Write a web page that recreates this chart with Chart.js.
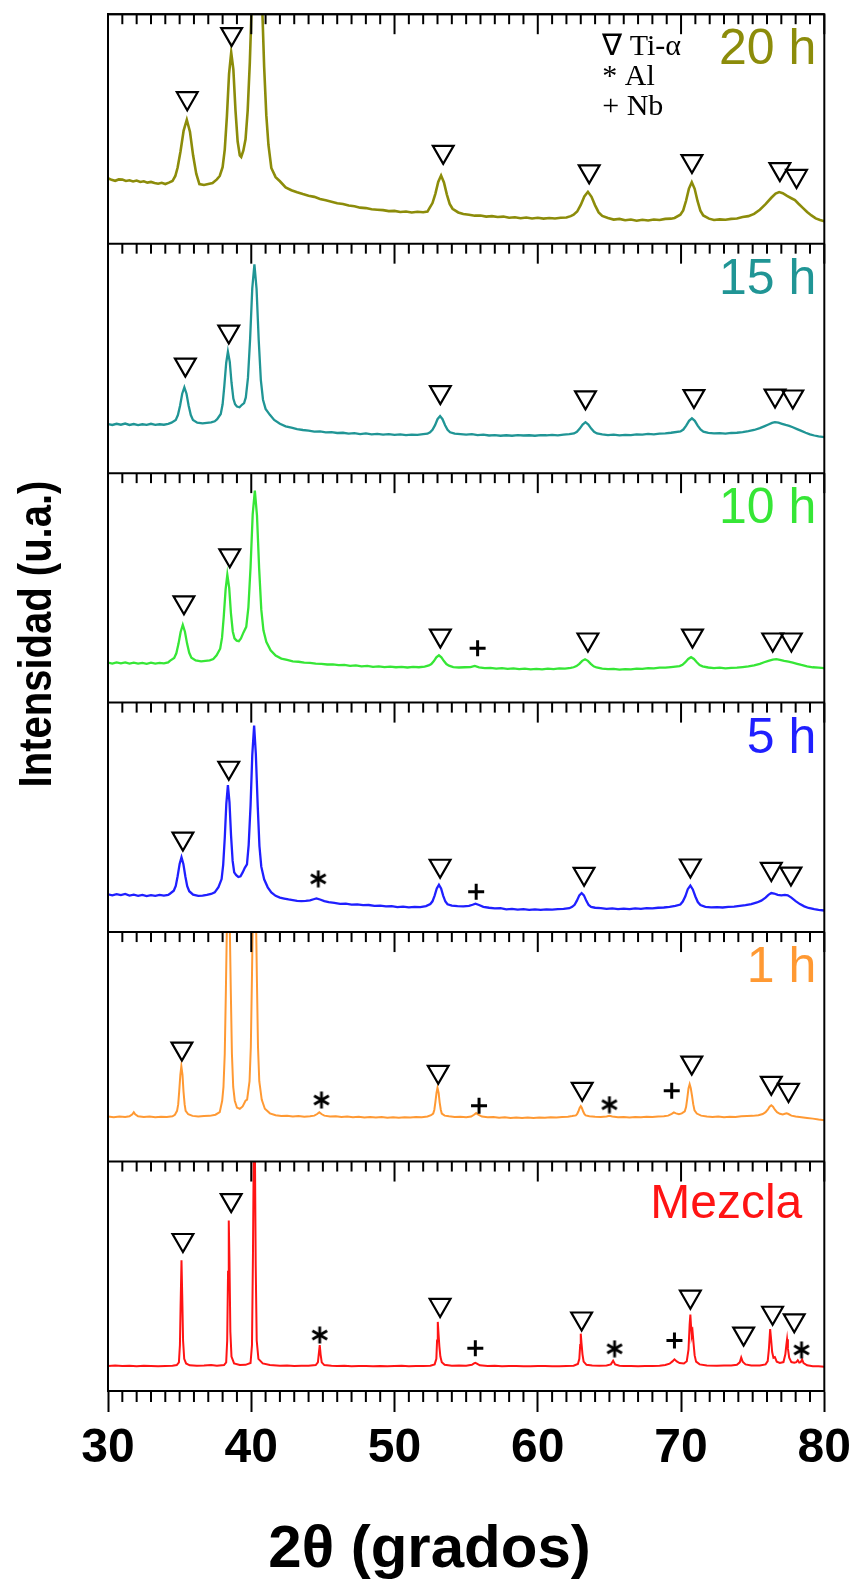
<!DOCTYPE html>
<html><head><meta charset="utf-8">
<script src="https://cdn.jsdelivr.net/npm/chart.js@4.4.1/dist/chart.umd.min.js"></script>
<style>html,body{margin:0;padding:0;background:#fff;}canvas{display:block;}</style>
</head><body>
<canvas id="c" width="859" height="1579" style="width:859px;height:1579px"></canvas>
<script>
// ---------- DATA (2θ in degrees, intensity in % of each panel's height) ----------
const panelLabels = ['Mezcla', '1 h', '5 h', '10 h', '15 h', '20 h'];
const panelColors = ['#ff1414', '#ff9933', '#1f1fff', '#36e636', '#209595', '#8c8c0a'];
const xTickValues = [30, 40, 50, 60, 70, 80];
const legendItems = ['\u2207 Ti-\u03b1', '* Al', '+ Nb'];
const xTitle = '2\u03b8 (grados)';
const yTitle = 'Intensidad (u.a.)';

const xrdMezcla = [[30,10.9],[30.5,11.1],[31,10.9],[31.5,11.0],[32,10.8],[32.5,11.0],[33,10.9],[33.5,10.8],[34,10.9],[34.5,11.0],[34.8,11.3],[34.95,12.5],[35.02,20.0],[35.07,38.0],[35.13,57.0],[35.18,42.0],[35.24,22.0],[35.32,14.0],[35.45,12.0],[35.7,11.2],[36.2,11.0],[36.7,11.1],[37.2,11.3],[37.6,11.0],[38.1,11.3],[38.25,12.5],[38.32,22.0],[38.38,52.0],[38.43,74.3],[38.48,56.0],[38.54,26.0],[38.62,15.0],[38.8,12.0],[39.2,11.3],[39.6,11.4],[39.95,12.2],[40.05,20.0],[40.12,60.0],[40.18,110],[40.21,135],[40.25,110],[40.31,55],[40.38,22],[40.5,14.0],[40.8,12.0],[41.3,11.3],[42,11.0],[42.5,11.1],[43,10.9],[43.5,11.0],[44,11.0],[44.5,11.3],[44.65,12.5],[44.72,16.5],[44.78,20.0],[44.84,16.0],[44.92,12.5],[45.1,11.3],[45.6,11.0],[46,10.9],[46.5,11.0],[47,10.8],[47.5,10.9],[48,10.9],[48.5,10.8],[49,10.9],[49.5,10.8],[50,10.9],[50.5,11.0],[51,10.8],[51.5,10.9],[52,10.9],[52.5,11.0],[52.8,11.6],[52.92,14.0],[52.97,22.0],[53.02,30.1],[53.07,25.0],[53.13,19.5],[53.2,15.0],[53.3,12.5],[53.5,11.4],[54,11.0],[54.5,11.1],[55,11.0],[55.4,11.4],[55.55,12.0],[55.64,12.3],[55.75,11.9],[55.95,11.2],[56.5,10.9],[57,11.0],[57.5,10.8],[58,10.9],[58.5,10.9],[59,10.8],[59.5,10.8],[60,10.9],[60.5,10.9],[61,10.8],[61.5,10.8],[62,10.9],[62.5,11.0],[62.8,11.8],[62.9,14.0],[62.96,20.0],[63.0,25.0],[63.05,21.0],[63.12,16.0],[63.2,12.8],[63.4,11.4],[63.8,11.1],[64.3,11.0],[64.8,11.1],[65.1,11.6],[65.26,13.2],[65.4,11.6],[65.7,11.0],[66,10.9],[66.5,10.9],[67,10.8],[67.5,10.9],[68,10.9],[68.5,11.0],[68.9,11.3],[69.2,11.9],[69.4,12.9],[69.54,13.8],[69.7,12.9],[69.9,12.2],[70.2,12.0],[70.4,13.0],[70.52,18.0],[70.6,29.0],[70.65,33.3],[70.7,28.0],[70.75,24.0],[70.81,25.5],[70.87,21.0],[70.95,15.5],[71.05,12.8],[71.3,11.6],[71.8,11.1],[72.5,11.0],[73,11.1],[73.5,11.1],[73.9,11.4],[74.1,12.5],[74.2,14.6],[74.3,12.8],[74.5,11.6],[74.9,11.1],[75.5,11.1],[75.9,11.6],[76.05,13.0],[76.13,18.0],[76.22,27.0],[76.28,23.0],[76.36,17.0],[76.45,14.5],[76.55,14.8],[76.68,12.8],[76.9,12.2],[77.15,12.6],[77.28,16.0],[77.35,20.0],[77.4,22.5],[77.46,18.5],[77.55,14.5],[77.7,12.6],[77.9,12.3],[78.05,12.6],[78.15,13.4],[78.25,12.4],[78.35,12.6],[78.45,13.8],[78.55,12.2],[78.8,11.2],[79.2,10.8],[79.6,10.8],[80,10.6]];

const xrd1h = [[30,19.6],[30.4,19.3],[30.8,19.6],[31.2,19.4],[31.5,19.7],[31.7,20.6],[31.8,21.5],[31.9,20.6],[32.1,19.7],[32.5,19.4],[32.9,19.6],[33.3,19.3],[33.7,19.5],[34.1,19.4],[34.5,19.7],[34.67,20.4],[34.82,22.1],[34.9,24.9],[34.97,30.6],[35.05,37.8],[35.12,41.6],[35.2,37.8],[35.27,30.6],[35.35,24.9],[35.42,22.1],[35.6,20.6],[35.9,19.9],[36.3,19.6],[36.7,19.8],[37.1,19.9],[37.5,20.4],[37.8,21.5],[37.97,26.5],[38.06,32.5],[38.15,47],[38.23,75],[38.32,111],[38.4,130],[38.48,111],[38.57,75],[38.65,47],[38.74,32.5],[38.85,26.5],[39.0,23.5],[39.2,23.0],[39.4,24.0],[39.6,26.5],[39.71,27],[39.88,35],[39.97,50],[40.05,81],[40.14,120],[40.22,141],[40.3,120],[40.39,81],[40.47,50],[40.56,35],[40.73,27],[40.95,23],[41.3,21],[41.7,20.2],[42.1,19.8],[42.5,19.9],[42.9,19.6],[43.3,19.8],[43.7,19.5],[44.1,19.7],[44.4,20.0],[44.6,20.7],[44.75,21.5],[44.9,20.7],[45.1,20.0],[45.5,19.6],[45.9,19.7],[46.3,19.4],[46.7,19.6],[47.1,19.3],[47.5,19.5],[47.9,19.2],[48.3,19.4],[48.7,19.2],[49.1,19.4],[49.5,19.1],[49.9,19.3],[50.3,19.1],[50.7,19.3],[51.1,19.2],[51.5,19.4],[51.9,19.3],[52.3,19.6],[52.55,20.2],[52.7,20.9],[52.78,22.6],[52.85,25.8],[52.93,29.9],[53.0,32.1],[53.08,29.9],[53.15,25.8],[53.23,22.6],[53.3,20.9],[53.5,20.0],[53.8,19.7],[54.2,19.4],[54.6,19.5],[55.0,19.3],[55.35,19.6],[55.55,20.4],[55.7,21.1],[55.85,20.4],[56.1,19.6],[56.5,19.3],[56.9,19.4],[57.3,19.1],[57.7,19.3],[58.1,19.0],[58.5,19.2],[58.9,19.0],[59.3,19.2],[59.7,19.0],[60.1,19.2],[60.5,19.1],[60.9,19.3],[61.3,19.2],[61.7,19.4],[62.1,19.5],[62.4,19.8],[62.66,20.1],[62.75,20.7],[62.83,21.8],[62.92,23.3],[63.0,24.1],[63.08,23.3],[63.17,21.8],[63.25,20.7],[63.34,20.1],[63.6,19.7],[64.0,19.5],[64.4,19.4],[64.8,19.6],[65.0,19.9],[65.2,19.6],[65.6,19.3],[66.0,19.4],[66.4,19.2],[66.8,19.4],[67.2,19.3],[67.6,19.5],[68.0,19.4],[68.4,19.6],[68.8,19.7],[69.1,20.0],[69.35,20.8],[69.5,21.4],[69.65,21.0],[69.85,20.6],[70.05,21.0],[70.26,21.9],[70.35,23.7],[70.43,27.3],[70.52,31.9],[70.6,33.7],[70.68,31.9],[70.77,28.5],[70.85,25.0],[70.94,22.3],[71.1,20.9],[71.4,20.0],[71.8,19.6],[72.2,19.4],[72.6,19.6],[73.0,19.3],[73.4,19.5],[73.8,19.4],[74.2,19.7],[74.6,19.8],[75.0,19.9],[75.4,20.2],[75.7,20.7],[75.9,21.5],[76.05,22.6],[76.18,23.9],[76.3,24.5],[76.42,23.9],[76.55,22.6],[76.7,21.5],[76.9,20.8],[77.1,20.5],[77.25,20.8],[77.37,21.0],[77.5,20.7],[77.7,20.0],[78.0,19.6],[78.4,19.3],[78.8,19.0],[79.2,18.7],[79.6,18.3],[80,18.0]];

const xrd5h = [[30,16.4],[30.3,16.0],[30.6,16.5],[30.9,16.1],[31.2,16.6],[31.5,15.9],[31.8,16.3],[32.1,15.8],[32.4,16.2],[32.7,15.7],[33.0,16.1],[33.3,15.8],[33.6,16.2],[33.9,15.9],[34.2,16.2],[34.32,16.7],[34.59,18.0],[34.73,20.1],[34.86,24.3],[35.0,29.7],[35.13,32.6],[35.26,29.7],[35.4,24.2],[35.53,20.0],[35.67,17.8],[35.94,16.3],[36.3,15.8],[36.6,15.9],[36.9,16.2],[37.2,16.6],[37.45,17.3],[37.71,19.6],[37.93,23.1],[38.04,29.3],[38.15,41.0],[38.26,56.0],[38.37,64.0],[38.48,56.5],[38.59,42.0],[38.7,31.0],[38.81,26.0],[38.95,24.8],[39.1,24.0],[39.25,24.3],[39.4,26.0],[39.55,28.0],[39.7,29.5],[39.82,38.0],[39.95,55.0],[40.07,77.0],[40.2,90.0],[40.32,77.5],[40.45,55.0],[40.57,37.5],[40.7,28.5],[40.9,23.0],[41.15,19.5],[41.4,17.3],[41.7,15.8],[42.0,15.0],[42.3,14.6],[42.6,14.2],[42.9,13.9],[43.2,13.6],[43.5,13.5],[43.8,13.6],[44.1,13.8],[44.35,14.3],[44.55,14.7],[44.8,14.2],[45.1,13.5],[45.4,13.0],[45.8,12.7],[46.2,12.3],[46.6,12.4],[47.0,12.0],[47.4,12.1],[47.8,11.7],[48.2,11.8],[48.6,11.4],[49.0,11.5],[49.4,11.2],[49.8,11.3],[50.2,10.9],[50.6,11.1],[51.0,10.8],[51.4,11.0],[51.8,10.9],[52.2,11.3],[52.5,12.2],[52.65,13.4],[52.8,15.9],[52.95,19.0],[53.1,20.6],[53.25,19.0],[53.4,15.8],[53.55,13.3],[53.7,12.1],[54.0,11.5],[54.4,11.3],[54.8,11.2],[55.2,11.4],[55.45,11.9],[55.65,12.4],[55.9,11.8],[56.2,11.0],[56.6,10.6],[57.0,10.3],[57.4,10.4],[57.8,9.9],[58.2,10.1],[58.6,9.8],[59.0,10.0],[59.4,9.7],[59.8,9.9],[60.2,9.7],[60.6,9.9],[61.0,9.8],[61.4,10.0],[61.8,10.1],[62.2,10.4],[62.4,11.0],[62.57,11.9],[62.73,13.7],[62.9,16.0],[63.06,17.0],[63.22,16.0],[63.39,13.6],[63.55,11.8],[63.72,11.0],[64.0,10.6],[64.4,10.4],[64.8,10.1],[65.2,10.3],[65.6,10.0],[66.0,10.2],[66.4,10.0],[66.8,10.3],[67.2,10.1],[67.6,10.4],[68.0,10.3],[68.4,10.6],[68.8,10.7],[69.2,11.0],[69.6,11.4],[69.95,12.0],[70.12,13.3],[70.3,15.6],[70.47,18.7],[70.65,20.3],[70.82,18.6],[71.0,15.5],[71.17,13.1],[71.35,11.8],[71.7,11.0],[72.1,10.8],[72.5,10.9],[72.9,10.7],[73.3,11.0],[73.7,11.1],[74.1,11.4],[74.5,11.7],[74.9,12.2],[75.3,12.9],[75.6,13.7],[75.9,15.0],[76.1,16.2],[76.3,17.0],[76.5,16.8],[76.75,16.2],[77.0,16.0],[77.25,16.2],[77.45,16.0],[77.7,15.0],[78.0,13.5],[78.3,12.2],[78.6,11.2],[78.9,10.5],[79.3,10.0],[79.6,9.7],[80,9.4]];

const xrd10h = [[30,17.4],[30.3,17.0],[30.6,17.5],[30.9,17.1],[31.2,17.5],[31.5,17.0],[31.8,17.4],[32.1,17.0],[32.4,17.3],[32.7,16.9],[33.0,17.4],[33.3,17.0],[33.6,17.3],[33.9,17.1],[34.2,17.5],[34.32,18.2],[34.62,19.4],[34.77,21.5],[34.92,25.6],[35.07,30.8],[35.22,33.9],[35.37,30.9],[35.52,25.7],[35.67,21.7],[35.82,19.6],[36.12,18.4],[36.5,18.0],[36.8,18.2],[37.1,18.4],[37.35,19.0],[37.58,20.6],[37.83,23.5],[37.96,28.3],[38.08,37.5],[38.21,49.3],[38.33,55.7],[38.46,50.0],[38.58,39.0],[38.71,31.0],[38.83,28.0],[38.98,27.0],[39.13,26.8],[39.28,28.0],[39.45,30.5],[39.65,33.0],[39.8,41.5],[39.95,59.0],[40.1,82.0],[40.25,92.4],[40.4,81.5],[40.55,58.5],[40.7,40.5],[40.85,31.5],[41.05,26.5],[41.35,22.8],[41.7,20.5],[42.1,19.2],[42.5,18.6],[42.9,18.0],[43.3,17.8],[43.7,17.4],[44.1,17.3],[44.5,17.0],[44.9,16.9],[45.3,16.6],[45.7,16.7],[46.1,16.3],[46.5,16.4],[46.9,16.0],[47.3,16.2],[47.7,15.8],[48.1,16.0],[48.5,15.6],[48.9,15.8],[49.3,15.5],[49.7,15.7],[50.1,15.4],[50.5,15.6],[50.9,15.3],[51.3,15.6],[51.7,15.4],[52.1,15.7],[52.4,16.2],[52.57,16.8],[52.75,18.1],[52.92,19.7],[53.1,20.6],[53.27,19.7],[53.45,18.1],[53.62,16.8],[53.8,16.1],[54.1,15.5],[54.5,15.3],[54.9,15.4],[55.3,15.5],[55.6,16.0],[55.9,15.4],[56.3,15.0],[56.7,15.1],[57.1,14.8],[57.5,15.0],[57.9,14.7],[58.3,14.9],[58.7,14.6],[59.1,14.8],[59.5,14.5],[59.9,14.7],[60.3,14.5],[60.7,14.8],[61.1,14.6],[61.5,14.9],[61.9,14.8],[62.3,15.1],[62.5,15.4],[62.7,15.9],[62.9,16.9],[63.1,18.2],[63.3,18.9],[63.5,18.2],[63.7,16.9],[63.9,15.8],[64.1,15.3],[64.5,14.8],[64.9,14.6],[65.3,14.7],[65.7,14.4],[66.1,14.6],[66.5,14.5],[66.9,14.8],[67.3,14.7],[67.7,15.0],[68.1,14.9],[68.5,15.2],[68.9,15.2],[69.3,15.5],[69.9,15.9],[70.1,16.5],[70.3,17.6],[70.5,19.0],[70.7,19.8],[70.9,19.0],[71.1,17.6],[71.3,16.4],[71.5,15.8],[71.9,15.3],[72.3,15.0],[72.7,15.2],[73.1,14.9],[73.5,15.1],[73.9,15.2],[74.3,15.5],[74.7,15.8],[75.1,16.2],[75.5,16.9],[75.8,17.6],[76.1,18.2],[76.4,18.7],[76.65,18.9],[76.9,18.6],[77.2,18.2],[77.5,17.9],[77.8,17.4],[78.1,16.9],[78.4,16.4],[78.8,15.8],[79.2,15.4],[79.6,15.2],[80,15.0]];

const xrd15h = [[30,21.4],[30.3,21.0],[30.6,21.5],[30.9,21.1],[31.2,21.6],[31.5,21.0],[31.8,21.4],[32.1,20.9],[32.4,21.3],[32.7,21.0],[33.0,21.5],[33.3,21.0],[33.6,21.3],[33.9,21.1],[34.2,21.5],[34.43,22.0],[34.73,23.2],[34.88,25.3],[35.03,29.4],[35.18,34.6],[35.33,37.4],[35.48,34.6],[35.63,29.4],[35.78,25.3],[35.93,23.2],[36.23,22.0],[36.6,21.7],[36.9,21.9],[37.2,22.1],[37.45,22.6],[37.62,23.5],[37.87,25.8],[38.0,30.0],[38.12,38.0],[38.25,48.0],[38.37,52.9],[38.5,48.5],[38.62,39.5],[38.75,32.5],[38.87,30.0],[39.0,29.0],[39.18,28.7],[39.35,29.8],[39.5,30.5],[39.62,33.0],[39.77,41.5],[39.92,58.5],[40.07,80.5],[40.22,91.0],[40.37,80.3],[40.52,58.0],[40.67,40.5],[40.82,32.0],[41.0,28.0],[41.3,25.4],[41.6,23.2],[42.0,21.5],[42.4,20.4],[42.8,19.8],[43.2,19.2],[43.6,18.8],[44.0,18.5],[44.4,18.1],[44.8,18.2],[45.2,17.8],[45.6,17.9],[46.0,17.5],[46.4,17.6],[46.8,17.2],[47.2,17.4],[47.6,17.0],[48.0,17.3],[48.4,16.9],[48.8,17.1],[49.2,16.8],[49.6,17.0],[50.0,16.7],[50.4,16.9],[50.8,16.6],[51.2,16.8],[51.6,16.7],[52.0,17.0],[52.3,17.2],[52.48,17.8],[52.65,18.9],[52.83,20.9],[53.0,23.5],[53.18,24.9],[53.35,23.5],[53.53,20.9],[53.7,18.9],[53.88,17.8],[54.2,17.2],[54.6,17.0],[55.0,16.8],[55.4,17.0],[55.8,16.6],[56.2,16.8],[56.6,16.4],[57.0,16.6],[57.4,16.3],[57.8,16.5],[58.2,16.3],[58.6,16.6],[59.0,16.4],[59.4,16.5],[59.8,16.3],[60.2,16.6],[60.6,16.5],[61.0,16.7],[61.4,16.5],[61.8,16.8],[62.2,17.0],[62.53,17.3],[62.73,18.0],[62.93,19.4],[63.13,21.2],[63.33,22.2],[63.53,21.2],[63.73,19.4],[63.93,18.0],[64.13,17.3],[64.5,16.9],[64.9,16.6],[65.3,16.8],[65.7,16.5],[66.1,16.7],[66.5,16.6],[66.9,16.9],[67.3,16.8],[67.7,17.1],[68.1,16.9],[68.5,17.2],[68.9,17.3],[69.3,17.6],[69.96,18.2],[70.16,19.0],[70.36,20.7],[70.56,22.8],[70.76,23.9],[70.96,22.8],[71.16,20.7],[71.36,19.0],[71.56,18.1],[71.9,17.5],[72.3,17.3],[72.7,17.4],[73.1,17.2],[73.5,17.5],[73.9,17.6],[74.3,17.9],[74.7,18.3],[75.1,18.8],[75.5,19.6],[75.8,20.4],[76.1,21.2],[76.35,21.9],[76.55,22.2],[76.8,22.0],[77.05,21.5],[77.3,21.0],[77.55,20.6],[77.8,20.0],[78.1,19.2],[78.4,18.4],[78.7,17.6],[79.0,16.9],[79.3,16.4],[79.6,16.0],[80,15.7]];

const xrd20h = [[30,28.5],[30.25,27.8],[30.5,27.4],[30.75,28.0],[31,27.9],[31.25,27.3],[31.5,27.6],[31.75,27.1],[32,27.5],[32.25,26.9],[32.5,27.2],[32.75,26.6],[33,26.9],[33.25,26.4],[33.5,26.1],[33.75,26.5],[34,26.0],[34.25,26.6],[34.5,27.3],[34.7,29.5],[34.86,33.2],[35.06,40.2],[35.28,49.3],[35.5,54.0],[35.72,48.8],[35.94,38.5],[36.16,30.5],[36.38,26.0],[36.7,25.6],[37.0,26.0],[37.3,26.4],[37.6,28.0],[37.8,29.5],[38.0,33.3],[38.15,41.0],[38.3,55.5],[38.45,74.0],[38.6,83.3],[38.75,76.0],[38.9,58.0],[39.05,44.5],[39.2,38.5],[39.3,37.8],[39.45,40.6],[39.6,45.5],[39.75,58.0],[39.9,79.0],[40.05,108],[40.2,137],[40.4,157],[40.6,136],[40.75,106],[40.9,77],[41.05,56],[41.2,43],[41.4,33],[41.7,29],[42.0,27.2],[42.4,24.5],[42.8,23.3],[43.2,22.4],[43.6,21.6],[44.0,20.9],[44.4,20.4],[44.8,19.5],[45.2,18.9],[45.6,18.3],[46.0,17.6],[46.4,17.3],[46.8,16.6],[47.2,16.3],[47.6,15.7],[48.0,15.5],[48.4,15.0],[48.8,14.8],[49.2,14.6],[49.6,14.2],[50.0,14.3],[50.4,13.8],[50.8,14.0],[51.2,13.6],[51.6,13.9],[52.0,13.7],[52.3,14.0],[52.45,15.6],[52.65,17.7],[52.85,21.7],[53.05,26.9],[53.25,29.7],[53.45,26.7],[53.65,21.5],[53.85,17.3],[54.05,15.2],[54.45,13.6],[54.8,12.9],[55.2,12.6],[55.6,12.2],[56.0,12.3],[56.4,11.8],[56.8,12.0],[57.2,11.6],[57.6,11.8],[58.0,11.3],[58.4,11.5],[58.8,11.1],[59.2,11.4],[59.6,11.0],[60.0,11.3],[60.4,10.9],[60.8,11.2],[61.2,11.0],[61.6,11.3],[62.0,11.4],[62.3,12.0],[62.5,12.6],[62.75,14.0],[63.0,16.9],[63.25,20.6],[63.5,22.6],[63.75,20.4],[64.0,16.7],[64.25,13.6],[64.5,12.1],[64.9,11.2],[65.3,10.5],[65.7,10.8],[66.1,10.2],[66.5,10.5],[66.9,10.0],[67.3,10.4],[67.7,10.1],[68.1,10.5],[68.5,10.3],[68.9,10.8],[69.3,10.9],[69.55,11.2],[69.95,12.6],[70.15,14.5],[70.35,18.7],[70.55,24.0],[70.75,26.8],[70.95,23.9],[71.15,18.6],[71.35,14.4],[71.55,12.3],[71.95,10.9],[72.3,10.3],[72.7,10.6],[73.1,10.4],[73.5,10.8],[73.9,11.0],[74.3,11.6],[74.7,12.0],[75.1,13.0],[75.5,14.8],[75.9,17.2],[76.3,20.0],[76.6,21.8],[76.85,22.5],[77.1,22.0],[77.4,20.8],[77.7,19.8],[77.95,19.0],[78.2,17.4],[78.5,15.6],[78.8,13.8],[79.1,12.3],[79.4,11.0],[79.7,10.3],[80,9.8]];

// peak markers: [2θ, height in panel %]
const triMezcla = [[35.23,65.8],[38.6,83.2],[53.18,37.5],[63.06,31.6],[70.65,41.1],[74.37,25],[76.39,34.1],[77.9,30.8]];
const starMezcla = [[44.78,24.4],[65.36,18.4],[78.41,17.9]];
const plusMezcla = [[55.64,18.6],[69.54,22]];
const tri1h = [[35.16,49.2],[53.05,39.1],[63.1,31.7],[70.75,43.1],[76.3,34.3],[77.5,31.2]];
const star1h = [[44.9,26.8],[65.0,24.8]];
const plus1h = [[55.9,24.3],[69.35,30.8]];
const tri5h = [[35.23,40.7],[38.43,71.6],[53.18,28.9],[63.23,25.4],[70.65,29],[76.3,27.5],[77.67,25.5]];
const star5h = [[44.68,23.2]];
const plus5h = [[55.7,17.6]];
const tri10h = [[35.3,43.7],[38.5,64.2],[53.2,29.2],[63.5,27.5],[70.8,29.2],[76.4,27.5],[77.7,27.5]];
const plus10h = [[55.8,23.7]];
const tri15h = [[35.4,47.3],[38.43,61.7],[53.2,35.3],[63.33,33],[70.9,33.6],[76.56,33.8],[77.8,33.4]];
const tri20h = [[35.53,63.4],[38.63,91.3],[53.4,40],[63.59,31.5],[70.76,36],[76.9,32.5],[78.06,29.5]];

// ---------- BUILD ----------
const SPAN = 100;
const panels = [
  {curve: xrdMezcla, tri: triMezcla, star: starMezcla, plus: plusMezcla, lw: 2},
  {curve: xrd1h, tri: tri1h, star: star1h, plus: plus1h, lw: 2},
  {curve: xrd5h, tri: tri5h, star: star5h, plus: plus5h, lw: 2.3},
  {curve: xrd10h, tri: tri10h, plus: plus10h, lw: 2.3},
  {curve: xrd15h, tri: tri15h, lw: 2.3},
  {curve: xrd20h, tri: tri20h, lw: 2.6}
];

// six-armed asterisk marker image (used as a Chart.js pointStyle)
function makeAsterisk(size, lw) {
  const c = document.createElement('canvas');
  c.width = size; c.height = size;
  const g = c.getContext('2d');
  g.strokeStyle = '#000'; g.lineWidth = lw; g.lineCap = 'butt';
  const cx = size / 2, r = size / 2 - 0.5;
  for (let i = 0; i < 3; i++) {
    const ang = Math.PI / 2 + i * Math.PI / 3;
    g.beginPath();
    g.moveTo(cx + r * Math.cos(ang), cx + r * Math.sin(ang));
    g.lineTo(cx - r * Math.cos(ang), cx - r * Math.sin(ang));
    g.stroke();
  }
  return c;
}
const asteriskStyle = makeAsterisk(18, 2.8);

const toXY = (arr, off) => arr.map(([t, v]) => ({x: t, y: v + off}));
const datasets = [];
panels.forEach((p, k) => {
  const off = k * SPAN;
  datasets.push({type: 'line', data: toXY(p.curve, off), borderColor: panelColors[k], borderWidth: p.lw,
    pointRadius: 0, tension: 0, clipPanel: k, order: 2});
  if (p.tri) datasets.push({type: 'scatter', data: toXY(p.tri, off), pointStyle: 'triangle', pointRotation: 180,
    pointRadius: 12, pointBorderWidth: 2.2, pointBorderColor: '#000', pointBackgroundColor: 'rgba(255,255,255,0)', order: 1});
  if (p.star) datasets.push({type: 'scatter', data: toXY(p.star, off), pointStyle: asteriskStyle,
    pointRadius: 9, order: 1});
  if (p.plus) datasets.push({type: 'scatter', data: toXY(p.plus, off), pointStyle: 'cross',
    pointRadius: 8, pointBorderWidth: 3, pointBorderColor: '#000', order: 1});
});

const SANS = "'Liberation Sans', Arial, Helvetica, sans-serif";
const SERIF = "'Liberation Serif', 'Times New Roman', serif";

const framePlugin = {
  id: 'xrdFrame',
  beforeDatasetDraw(chart, args) {
    const ds = chart.data.datasets[args.index];
    if (ds.clipPanel === undefined) return;
    const y = chart.scales.y, a = chart.chartArea, ctx = chart.ctx;
    const top = y.getPixelForValue((ds.clipPanel + 1) * SPAN);
    const bot = y.getPixelForValue(ds.clipPanel * SPAN);
    ctx.save(); ctx.beginPath(); ctx.rect(a.left, top, a.right - a.left, bot - top); ctx.clip();
  },
  afterDatasetDraw(chart, args) {
    if (chart.data.datasets[args.index].clipPanel !== undefined) chart.ctx.restore();
  },
  afterDraw(chart) {
    const ctx = chart.ctx, a = chart.chartArea, x = chart.scales.x, y = chart.scales.y;
    ctx.save();
    ctx.strokeStyle = '#000'; ctx.lineWidth = 2; ctx.lineCap = 'butt';
    ctx.strokeRect(a.left, a.top, a.right - a.left, a.bottom - a.top);
    for (let k = 0; k < panels.length; k++) {
      const top = y.getPixelForValue((k + 1) * SPAN);
      ctx.beginPath(); ctx.moveTo(a.left, top); ctx.lineTo(a.right, top); ctx.stroke();
      for (let t = 30; t <= 80; t++) {
        const px = x.getPixelForValue(t);
        const len = (t % 10 === 0) ? 20 : 10;
        ctx.beginPath(); ctx.moveTo(px, top); ctx.lineTo(px, top + len); ctx.stroke();
      }
      ctx.fillStyle = panelColors[k];
      ctx.textAlign = 'right'; ctx.textBaseline = 'alphabetic';
      if (k === 0) { ctx.font = '48px ' + SANS; ctx.fillText(panelLabels[k], a.right - 22, top + 56); }
      else { ctx.font = '50px ' + SANS; ctx.fillText(panelLabels[k], a.right - 8, top + 50); }
    }
    for (let t = 31; t < 80; t++) {
      if (t % 10 === 0) continue;
      const px = x.getPixelForValue(t);
      ctx.beginPath(); ctx.moveTo(px, a.bottom); ctx.lineTo(px, a.bottom + 11); ctx.stroke();
    }
    // phase legend
    ctx.fillStyle = '#000'; ctx.font = '30px ' + SERIF; ctx.textAlign = 'left';
    const lx = x.getPixelForValue(64.5);
    legendItems.forEach((s, i) => ctx.fillText(s, lx, a.top + 41 + i * 30));
    // axis titles
    ctx.font = 'bold 60px ' + SANS; ctx.textAlign = 'center'; ctx.textBaseline = 'middle';
    ctx.fillText(xTitle, chart.width / 2, 1550);
    ctx.save();
    ctx.translate(38, 634); ctx.rotate(-Math.PI / 2); ctx.scale(0.87, 1);
    ctx.font = 'bold 46px ' + SANS;
    ctx.fillText(yTitle, 0, 0);
    ctx.restore();
    ctx.restore();
  }
};

new Chart(document.getElementById('c'), {
  data: {datasets},
  options: {
    responsive: false, animation: false, devicePixelRatio: 1,
    layout: {padding: {left: 4, right: 31, top: 10, bottom: 0}},
    plugins: {legend: {display: false}, tooltip: {enabled: false}},
    scales: {
      x: {type: 'linear', position: 'bottom', min: 30, max: 80,
        afterBuildTicks: s => { s.ticks = xTickValues.map(v => ({value: v})); },
        afterFit: s => { s.height = 188; },
        ticks: {autoSkip: false, maxRotation: 0, padding: 8, color: '#000',
          font: {family: SANS, size: 48, weight: 'bold'}},
        grid: {drawOnChartArea: false, drawTicks: true, tickLength: 21, tickWidth: 2, tickColor: '#000'},
        border: {display: true, color: '#000', width: 2}
      },
      y: {type: 'linear', position: 'left', min: 0, max: panels.length * SPAN,
        afterFit: s => { s.width = 104; },
        ticks: {display: false},
        grid: {display: false},
        border: {display: true, color: '#000', width: 2}
      }
    }
  },
  plugins: [framePlugin]
});
</script>
</body></html>
